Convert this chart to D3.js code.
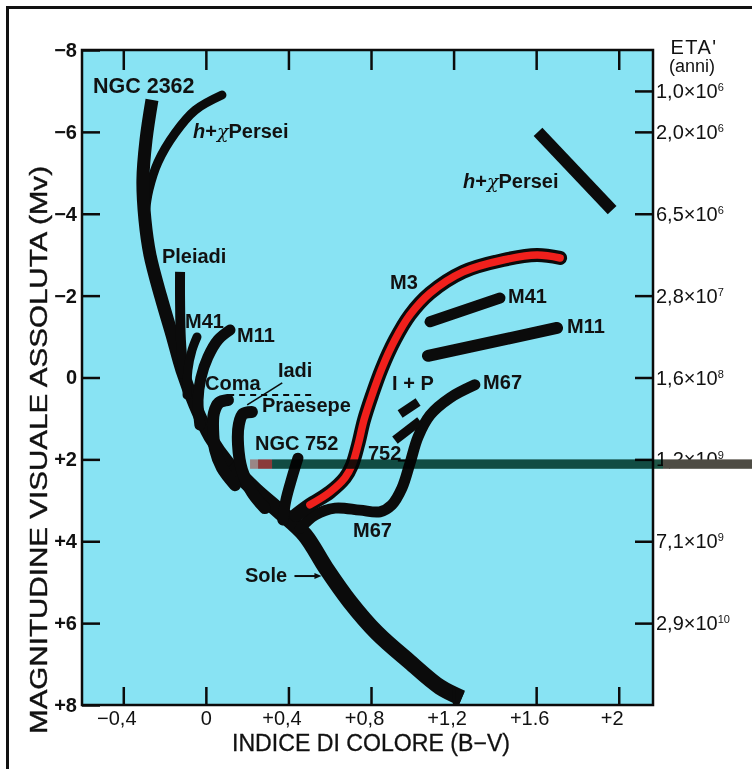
<!DOCTYPE html>
<html><head><meta charset="utf-8">
<script src="https://cdn.jsdelivr.net/npm/d3@7"></script>
<style>
html,body{margin:0;padding:0;background:#fff;}
svg{display:block;font-family:"Liberation Sans",Arial,Helvetica,sans-serif;}
</style></head><body>
<svg id="chart" width="752" height="769"></svg>
<script>
// Axis ticks: colour index (B−V) and absolute visual magnitude (Mv)
const xTicks = [-0.4, 0, 0.4, 0.8, 1.2, 1.6, 2.0];
const xTickLabels = ["−0,4", "0", "+0,4", "+0,8", "+1,2", "+1.6", "+2"];
const yTicks = [-8, -6, -4, -2, 0, 2, 4, 6, 8];
const yTickLabels = ["−8", "−6", "−4", "−2", "0", "+2", "+4", "+6", "+8"];

// Turn-off age scale (years) on the right-hand axis
const ageMv = [-7, -6, -4, -2, 0, 2, 4, 6];
const ageMantissa = ["1,0", "2,0", "6,5", "2,8", "1,6", "1,2", "7,1", "2,9"];
const ageExponent = ["6", "6", "6", "7", "8", "9", "9", "10"];

// Cluster sequences as [B−V, Mv] points
const ngc2362 = [[-0.261,-6.78],[-0.290,-5.80],[-0.305,-4.82],[-0.295,-3.85],[-0.271,-3.00],
  [-0.218,-1.97],[-0.164,-1.04],[-0.116,-0.18],[-0.053,0.67],[0.020,1.45],[0.117,2.14],
  [0.238,2.75],[0.359,3.28],[0.480,3.85],[0.581,4.65],[0.698,5.48],[0.829,6.24],
  [0.988,6.95],[1.134,7.56],[1.240,7.83]];
const hPerseiUpper = [[0.078,-6.90],[-0.052,-6.53],[-0.149,-5.97],[-0.232,-5.26],[-0.276,-4.58],[-0.295,-3.97]];
const pleiadi = [[-0.125,-2.58],[-0.125,-1.89],[-0.121,-0.92],[-0.106,0.01]];
const m41Upper = [[-0.043,-0.99],[-0.067,-0.67],[-0.087,-0.18],[-0.091,0.43]];
const m11Upper = [[0.117,-1.16],[0.059,-0.92],[0.010,-0.50],[-0.024,0.01],[-0.038,0.55],[-0.029,1.16]];
const coma = [[0.107,0.55],[0.063,0.62],[0.039,0.87],[0.035,1.28],[0.045,1.77],[0.078,2.21],[0.141,2.63]];
const praesepe = [[0.223,0.84],[0.180,0.89],[0.160,1.14],[0.156,1.65],[0.175,2.26],[0.223,2.80],[0.286,3.19]];
const ngc752 = [[0.446,1.97],[0.417,2.45],[0.388,2.99],[0.373,3.48]];
const m3 = [[0.437,3.36],[0.504,3.11],[0.601,2.80],[0.674,2.45],[0.708,2.14],[0.737,1.65],
  [0.766,1.04],[0.805,0.43],[0.853,-0.23],[0.916,-0.92],[0.989,-1.53],[1.086,-2.06],
  [1.246,-2.58],[1.440,-2.87],[1.604,-2.99],[1.716,-2.92]];
const m67 = [[0.457,3.68],[0.529,3.36],[0.626,3.19],[0.746,3.24],[0.843,3.28],[0.901,3.11],
  [0.950,2.70],[0.989,2.09],[1.028,1.45],[1.086,0.92],[1.182,0.50],[1.303,0.18]];
const m41Giants = [[1.086,-1.36],[1.425,-1.94]];
const m11Giants = [[1.076,-0.53],[1.701,-1.21]];
const hyadesPraesepeGiants1 = [[0.941,0.89],[1.028,0.60]];
const hyadesPraesepeGiants2 = [[0.916,1.53],[1.037,1.06]];
const hPerseiGiants = [[1.609,-6.00],[1.968,-4.09]];

// Cluster names, anchored at [B−V, Mv] (text start, baseline)
const labelText = ["Pleiadi", "M41", "M11", "Coma", "Iadi", "Praesepe", "NGC 752",
  "M3", "M41", "M11", "I + P", "M67", "752", "M67", "Sole"];
const labelBV = [-0.213, -0.101, 0.151, -0.004, 0.349, 0.272, 0.238,
  0.892, 1.464, 1.750, 0.902, 1.343, 0.785, 0.713, 0.189];
const labelMv = [-2.80, -1.21, -0.87, 0.30, -0.01, 0.84, 1.77,
  -2.16, -1.82, -1.09, 0.30, 0.28, 2.01, 3.90, 4.99];
const sunPoint = [0.56, 4.85];

const svg = d3.select("#chart");
const W = 752, H = 769;

const x = d3.scaleLinear().domain([-0.6, 2.166]).range([82, 653]);
const y = d3.scaleLinear().domain([-8, 8]).range([50, 705]);

svg.append("rect").attr("width", W).attr("height", H).attr("fill", "#ffffff");

// page frame (top and left rules)
svg.append("line").attr("x1", 7.5).attr("y1", 6).attr("x2", 7.5).attr("y2", H)
  .attr("stroke", "#111").attr("stroke-width", 3);
svg.append("line").attr("x1", 6).attr("y1", 7.5).attr("x2", W).attr("y2", 7.5)
  .attr("stroke", "#111").attr("stroke-width", 3);

// plot background
svg.append("rect")
  .attr("x", x(-0.6)).attr("y", y(-8))
  .attr("width", x(2.166) - x(-0.6)).attr("height", y(8) - y(-8))
  .attr("fill", "#88e3f3");

const line = d3.line().x(d => x(d[0])).y(d => y(d[1])).curve(d3.curveCatmullRom.alpha(0.5));
const ink = "#0b0b0b";
function band(data, width, cap) {
  svg.append("path").attr("d", line(data)).attr("fill", "none")
    .attr("stroke", ink).attr("stroke-width", width)
    .attr("stroke-linecap", cap || "round").attr("stroke-linejoin", "round");
}

band(hPerseiUpper, 9);
band(ngc2362, 13, "butt");
band(ngc2362.slice(10), 16, "butt");
band(pleiadi, 10, "butt");
band(m41Upper, 9);
band(m11Upper, 11);
band(coma, 12);
band(praesepe, 12);
band(ngc752, 11);
band(m67, 11);
// M3 giant branch: black outline with red core
svg.append("path").attr("d", line(m3)).attr("fill", "none")
  .attr("stroke", ink).attr("stroke-width", 14).attr("stroke-linecap", "round");
svg.append("path").attr("d", line(m3.slice(1))).attr("fill", "none")
  .attr("stroke", "#f0201c").attr("stroke-width", 7.5).attr("stroke-linecap", "round");
band(m41Giants, 11);
band(m11Giants, 12);
band(hyadesPraesepeGiants1, 9, "butt");
band(hyadesPraesepeGiants2, 9, "butt");
band(hPerseiGiants, 12, "butt");

// dashed Hyades/Coma link and leader for "Iadi"
svg.append("line").attr("x1", x(0.108)).attr("x2", x(0.514)).attr("y1", y(0.43)).attr("y2", y(0.43))
  .attr("stroke", ink).attr("stroke-width", 2).attr("stroke-dasharray", "6,5");
svg.append("line").attr("x1", x(0.200)).attr("y1", y(0.67)).attr("x2", x(0.370)).attr("y2", y(0.13))
  .attr("stroke", ink).attr("stroke-width", 1.6);
// small NGC 752 clump mark
svg.append("line").attr("x1", x(0.930)).attr("x2", x(0.985)).attr("y1", y(2.03)).attr("y2", y(2.03))
  .attr("stroke", ink).attr("stroke-width", 2);

// Sun arrow
const sx = x(sunPoint[0]), sy = y(sunPoint[1]);
svg.append("line").attr("x1", sx - 27).attr("x2", sx - 5).attr("y1", sy).attr("y2", sy)
  .attr("stroke", ink).attr("stroke-width", 2);
svg.append("path").attr("d", `M${sx},${sy} l-7,-3 l0,6 z`).attr("fill", ink);

// cluster labels
const labels = svg.append("g").attr("font-weight", "bold").attr("font-size", 20).attr("fill", "#111");
labelText.forEach((t, i) => {
  labels.append("text").attr("x", x(labelBV[i])).attr("y", y(labelMv[i])).text(t);
});
labels.append("text").attr("x", x(-0.547)).attr("y", y(-6.95)).attr("font-size", 21.5).text("NGC 2362");
function persei(bv, mv) {
  const t = labels.append("text").attr("x", x(bv)).attr("y", y(mv));
  t.append("tspan").attr("font-style", "italic").text("h");
  t.append("tspan").text("+");
  t.append("tspan").attr("font-style", "italic").attr("font-family", "DejaVu Serif").attr("font-weight", "normal").attr("font-size", 19).text("χ");
  t.append("tspan").text("Persei");
}
persei(-0.062, -5.85);
persei(1.246, -4.63);

// plot frame
svg.append("rect")
  .attr("x", x(-0.6)).attr("y", y(-8))
  .attr("width", x(2.166) - x(-0.6)).attr("height", y(8) - y(-8))
  .attr("fill", "none").attr("stroke", ink).attr("stroke-width", 2.5);

// axes
const gLeft = svg.append("g").attr("transform", `translate(${x(-0.6)},0)`)
  .call(d3.axisLeft(y).tickValues(yTicks).tickSize(-18).tickPadding(5)
    .tickFormat((d, i) => yTickLabels[i]));
gLeft.selectAll("text").attr("font-size", 20).attr("font-weight", "bold")
  .attr("font-family", "Liberation Sans, Arial, sans-serif").attr("fill", "#111");

const gBottom = svg.append("g").attr("transform", `translate(0,${y(8)})`)
  .call(d3.axisBottom(x).tickValues(xTicks).tickSize(-18).tickPadding(6)
    .tickFormat((d, i) => xTickLabels[i]));
gBottom.selectAll("text").attr("font-size", 20)
  .attr("font-family", "Liberation Sans, Arial, sans-serif").attr("fill", "#111")
  .attr("dx", (d, i) => xTickLabels[i] === "0" ? 0 : -7);

const gTop = svg.append("g").attr("transform", `translate(0,${y(-8)})`)
  .call(d3.axisTop(x).tickValues(xTicks).tickSize(-20).tickFormat(""));

const gRight = svg.append("g").attr("transform", `translate(${x(2.166)},0)`)
  .call(d3.axisRight(y).tickValues(ageMv).tickSize(-18).tickFormat(""));

[gLeft, gBottom, gTop, gRight].forEach(g => {
  g.select(".domain").remove();
  g.selectAll(".tick line").attr("stroke", ink).attr("stroke-width", 2.5);
});

// age labels
const ages = svg.append("g").attr("font-size", 20).attr("fill", "#111");
ageMv.forEach((mv, i) => {
  const t = ages.append("text").attr("x", x(2.166) + 3).attr("y", y(mv) + 7);
  t.append("tspan").text(ageMantissa[i] + "×10");
  t.append("tspan").attr("font-size", 11).attr("dy", -7).text(ageExponent[i]);
});
ages.append("text").attr("x", 694).attr("y", 54).attr("text-anchor", "middle")
  .attr("font-size", 20).attr("letter-spacing", 1.5).text("ETA'");
ages.append("text").attr("x", 692).attr("y", 72).attr("text-anchor", "middle")
  .attr("font-size", 18).text("(anni)");

// axis titles
svg.append("text").attr("transform", "translate(47,450) rotate(-90)")
  .attr("text-anchor", "middle").attr("font-size", 23).attr("fill", "#111")
  .attr("stroke", "#111").attr("stroke-width", 0.4)
  .attr("textLength", 568).attr("lengthAdjust", "spacingAndGlyphs")
  .text("MAGNITUDINE VISUALE ASSOLUTA (Mv)");
svg.append("text").attr("x", 371).attr("y", 751)
  .attr("text-anchor", "middle").attr("font-size", 23).attr("fill", "#111")
  .attr("stroke", "#111").attr("stroke-width", 0.3)
  .attr("textLength", 278).attr("lengthAdjust", "spacingAndGlyphs")
  .text("INDICE DI COLORE (B−V)");

// dark horizontal stripe crossing the plot near Mv = +2
const stripeTop = y(2.0), stripeH = y(2.23) - y(2.0);
svg.append("rect").attr("x", x(0.214)).attr("y", stripeTop).attr("width", 8).attr("height", stripeH)
  .attr("fill", "#9a8686");
svg.append("rect").attr("x", x(0.214) + 8).attr("y", stripeTop).attr("width", 14).attr("height", stripeH)
  .attr("fill", "#8a3a3a");
svg.append("rect").attr("x", x(0.214) + 22).attr("y", stripeTop).attr("width", x(2.166) + 10 - x(0.214) - 22).attr("height", stripeH)
  .attr("fill", "#1f5546").style("mix-blend-mode", "multiply");
svg.append("rect").attr("x", x(2.166) + 10).attr("y", stripeTop).attr("width", W - x(2.166) - 10).attr("height", stripeH)
  .attr("fill", "#4e4c44");
</script>
</body></html>
